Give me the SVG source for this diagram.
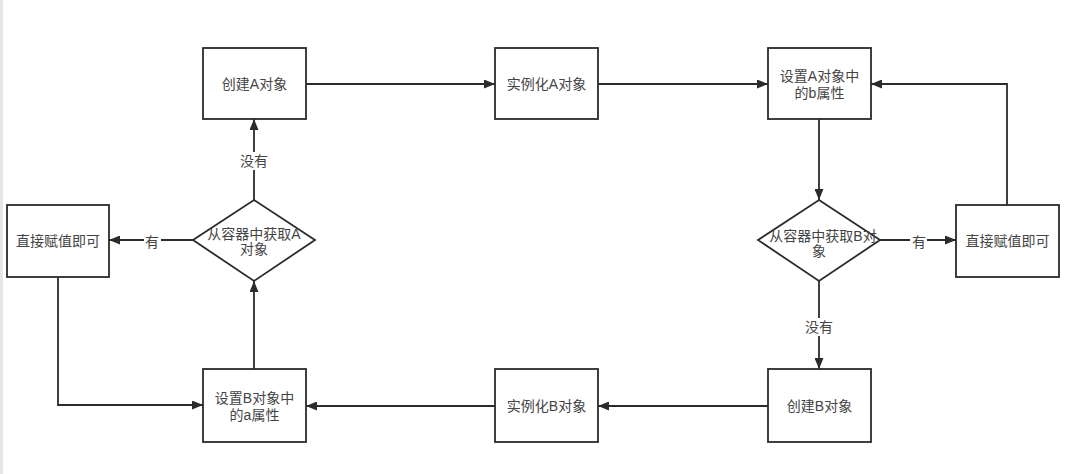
<svg xmlns="http://www.w3.org/2000/svg" width="1074" height="474" viewBox="0 0 1074 474">
<style>
.box{fill:#ffffff;stroke:#2b2b2b;stroke-width:1.8}
.t{font-family:"Liberation Sans","Noto Sans CJK SC",sans-serif;font-size:14px;fill:#444444;text-anchor:middle;dominant-baseline:central}
.c{fill:none;stroke:#2b2b2b;stroke-width:1.8}
.lb{fill:#ffffff}
</style>
<defs>
<marker id="arr" markerUnits="userSpaceOnUse" markerWidth="11" markerHeight="9" refX="11" refY="4.5" orient="auto">
<path d="M0,0 L11,4.5 L0,9 z" fill="#2b2b2b"/>
</marker>
</defs>
<rect x="0" y="0" width="1074" height="474" fill="#ffffff"/>
<rect x="0" y="0" width="3" height="474" fill="#e6e6ea"/>

<g id="connectors">
<line class="c" x1="306" y1="84" x2="495" y2="84" marker-end="url(#arr)"/>
<line class="c" x1="598" y1="84" x2="768" y2="84" marker-end="url(#arr)"/>
<line class="c" x1="819" y1="119" x2="819" y2="200" marker-end="url(#arr)"/>
<line class="c" x1="880" y1="240" x2="956" y2="240" marker-end="url(#arr)"/>
<polyline class="c" points="1007,205 1007,84 871,84" marker-end="url(#arr)"/>
<line class="c" x1="819" y1="281" x2="819" y2="369" marker-end="url(#arr)"/>
<line class="c" x1="768" y1="406" x2="598" y2="406" marker-end="url(#arr)"/>
<line class="c" x1="495" y1="406" x2="306" y2="406" marker-end="url(#arr)"/>
<line class="c" x1="254" y1="369" x2="254" y2="281" marker-end="url(#arr)"/>
<line class="c" x1="193" y1="240" x2="109" y2="240" marker-end="url(#arr)"/>
<line class="c" x1="254" y1="200" x2="254" y2="119" marker-end="url(#arr)"/>
<polyline class="c" points="58,277 58,405 203,405" marker-end="url(#arr)"/>
<rect class="lb" x="239" y="152" width="30" height="18"/>
<text class="t" x="254" y="161">没有</text>
<rect class="lb" x="144" y="232" width="17" height="18"/>
<text class="t" x="152" y="242">有</text>
<rect class="lb" x="910" y="232" width="17" height="18"/>
<text class="t" x="919" y="242">有</text>
<rect class="lb" x="804" y="318" width="30" height="18"/>
<text class="t" x="819" y="327">没有</text>
</g>

<g id="createA">
<rect class="box" x="203" y="48" width="103" height="71"/>
<text class="t" x="254.5" y="84">创建A对象</text>
</g>
<g id="instA">
<rect class="box" x="495" y="48" width="103" height="71"/>
<text class="t" x="546.5" y="84">实例化A对象</text>
</g>
<g id="setA">
<rect class="box" x="768" y="48" width="103" height="71"/>
<text class="t" x="819.5" y="76">设置A对象中</text>
<text class="t" x="819.5" y="93">的b属性</text>
</g>
<g id="getB">
<polygon class="box" points="819,200 880,240 819,281 758,240"/>
<text class="t" x="823" y="236">从容器中获取B对</text>
<text class="t" x="819" y="251">象</text>
</g>
<g id="directR">
<rect class="box" x="956" y="205" width="103" height="72"/>
<text class="t" x="1007.5" y="241">直接赋值即可</text>
</g>
<g id="createB">
<rect class="box" x="768" y="369" width="103" height="73"/>
<text class="t" x="819.5" y="406">创建B对象</text>
</g>
<g id="instB">
<rect class="box" x="495" y="369" width="103" height="73"/>
<text class="t" x="546.5" y="406">实例化B对象</text>
</g>
<g id="setB">
<rect class="box" x="203" y="369" width="103" height="73"/>
<text class="t" x="254.5" y="398">设置B对象中</text>
<text class="t" x="254.5" y="415">的a属性</text>
</g>
<g id="getA">
<polygon class="box" points="254,200 315,240 254,281 193,240"/>
<text class="t" x="254" y="234">从容器中获取A</text>
<text class="t" x="254" y="249">对象</text>
</g>
<g id="directL">
<rect class="box" x="7" y="205" width="102" height="72"/>
<text class="t" x="58" y="241">直接赋值即可</text>
</g>
</svg>
